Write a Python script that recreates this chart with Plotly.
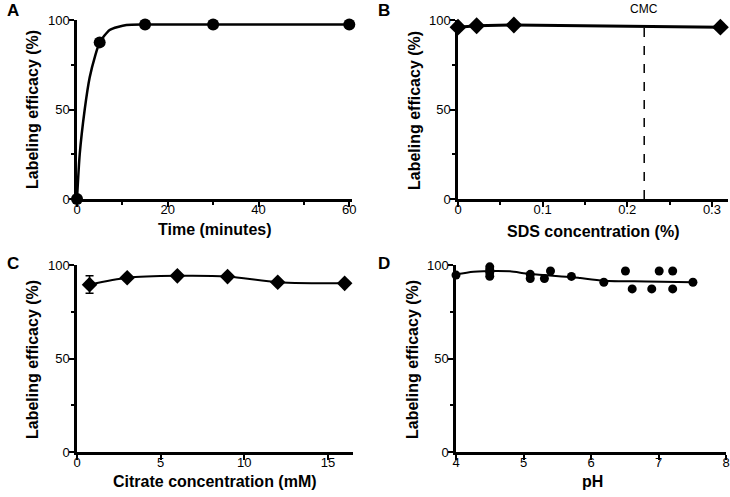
import plotly.graph_objects as go

# ---- Data ----
# Panel A: time course
time_min = [0, 5, 15, 30, 60]
eff_time = [0, 87.5, 97.5, 97.5, 97.5]
# fitted curve points
fitA_t = [0, 0.6, 1.7, 2.8, 4, 5, 7.2, 10.9, 15, 30, 60]
fitA_y = [0, 25, 50, 68, 80, 87.5, 94.4, 97.2, 97.5, 97.5, 97.5]

# Panel B: SDS concentration
sds_conc = [0, 0.022, 0.066, 0.31]
eff_sds = [96, 96.8, 97.2, 96]
cmc_x = 0.22

# Panel C: citrate concentration
citrate = [0.75, 3, 6, 9, 12, 16]
eff_citrate = [89.5, 93.2, 94.2, 93.8, 90.8, 90.2]
err_plus = [4.8, 0, 0, 0, 0, 0]
err_minus = [4.6, 0, 0, 0, 0, 0]

# Panel D: pH
ph = [4.0, 4.5, 4.5, 4.5, 4.5, 5.1, 5.1, 5.31, 5.4, 5.71, 6.19, 6.51, 6.61, 6.9, 7.01, 7.21, 7.21, 7.51]
eff_ph = [94.6, 99, 97.5, 96, 94, 95, 92.8, 92.8, 96.8, 93.9, 90.8, 96.8, 87.2, 87.2, 96.8, 96.8, 87.2, 90.8]
fitD_x = [4.0, 4.26, 4.6, 4.8, 5.1, 5.71, 5.84, 6.19, 6.82, 7.51]
fitD_y = [95, 96.4, 96.8, 96.6, 95.2, 93.5, 93.0, 91.6, 91.2, 90.8]

FONT = "Arial, Liberation Sans, sans-serif"
fig = go.Figure()

# A
fig.add_trace(go.Scatter(x=fitA_t, y=fitA_y, mode="lines", line=dict(color="black", width=2.5, shape="spline", smoothing=0.6),
                         xaxis="x", yaxis="y", cliponaxis=False, showlegend=False))
fig.add_trace(go.Scatter(x=time_min, y=eff_time, mode="markers", marker=dict(color="black", size=12, symbol="circle"),
                         xaxis="x", yaxis="y", cliponaxis=False, showlegend=False))
# B
fig.add_trace(go.Scatter(x=[cmc_x, cmc_x], y=[0, 100], mode="lines", line=dict(color="black", width=1.5, dash="dash"),
                         xaxis="x2", yaxis="y2", showlegend=False))
fig.add_trace(go.Scatter(x=sds_conc, y=eff_sds, mode="lines+markers", line=dict(color="black", width=3),
                         marker=dict(color="black", size=13, symbol="diamond"),
                         xaxis="x2", yaxis="y2", cliponaxis=False, showlegend=False))
# C
fig.add_trace(go.Scatter(x=citrate, y=eff_citrate, mode="lines+markers",
                         line=dict(color="black", width=2, shape="spline", smoothing=0.8),
                         marker=dict(color="black", size=12, symbol="diamond"),
                         error_y=dict(type="data", array=err_plus, arrayminus=err_minus, color="black", thickness=1.5, width=4),
                         xaxis="x3", yaxis="y3", cliponaxis=False, showlegend=False))
# D
fig.add_trace(go.Scatter(x=fitD_x, y=fitD_y, mode="lines", line=dict(color="black", width=2, shape="spline", smoothing=0.8),
                         xaxis="x4", yaxis="y4", cliponaxis=False, showlegend=False))
fig.add_trace(go.Scatter(x=ph, y=eff_ph, mode="markers", marker=dict(color="black", size=9, symbol="circle"),
                         xaxis="x4", yaxis="y4", cliponaxis=False, showlegend=False))

W, H = 730, 497

def px(x):
    return x / W

def py(y):
    return 1 - y / H

def xax(dom, anchor, rng, dtick, tick0=0, minor=None):
    d = dict(domain=dom, anchor=anchor, range=rng, dtick=dtick, tick0=tick0, showline=True, linecolor="black",
             linewidth=2.5, ticks="outside", ticklen=5, tickwidth=2, tickcolor="black", showgrid=False,
             zeroline=False, automargin=False, ticklabelstandoff=-8,
             tickfont=dict(family=FONT, size=13, color="black"), fixedrange=True)
    if minor:
        d["minor"] = dict(dtick=minor, ticks="outside", ticklen=3, tickwidth=2, tickcolor="black", showgrid=False)
    return d

def yax(dom, anchor):
    return dict(domain=dom, anchor=anchor, range=[0, 100], dtick=50, showline=True, linecolor="black",
                linewidth=2.5, ticks="outside", ticklen=5, tickwidth=2, tickcolor="black", showgrid=False,
                zeroline=False, automargin=False, ticklabelstandoff=-3, fixedrange=True,
                tickfont=dict(family=FONT, size=13, color="black"),
                minor=dict(dtick=25, ticks="outside", ticklen=3, tickwidth=2, tickcolor="black", showgrid=False))

top_dom = [py(199), py(20)]
bot_dom = [py(452), py(265)]

fig.update_layout(
    width=W, height=H, margin=dict(l=0, r=0, t=0, b=0, autoexpand=False),
    paper_bgcolor="white", plot_bgcolor="white",
    xaxis=xax([px(77), px(352)], "y", [0, 60.6], 20, minor=10),
    yaxis=yax(top_dom, "x"),
    xaxis2=xax([px(458), px(728)], "y2", [0, 0.319], 0.1, minor=0.05),
    yaxis2=yax(top_dom, "x2"),
    xaxis3=xax([px(77), px(353)], "y3", [0, 16.5], 5),
    yaxis3=yax(bot_dom, "x3"),
    xaxis4=xax([px(456), px(726)], "y4", [4, 8], 1),
    yaxis4=yax(bot_dom, "x4"),
)

ann = []
def text(x, y, t, size=16, bold=True, angle=0):
    ann.append(dict(x=px(x), y=py(y), xref="paper", yref="paper", text=(f"<b>{t}</b>" if bold else t),
                    showarrow=False, textangle=angle, xanchor="center", yanchor="middle",
                    font=dict(family=FONT, size=size, color="black")))

# panel letters
text(13, 10, "A", 17)
text(384, 10, "B", 17)
text(13, 263, "C", 17)
text(384, 263, "D", 17)
# axis titles
text(215, 230, "Time (minutes)")
text(32, 110, "Labeling efficacy (%)", angle=-90)
text(593, 231, "SDS concentration (%)")
text(414, 111, "Labeling efficacy (%)", angle=-90)
text(215, 481, "Citrate concentration (mM)")
text(32, 360, "Labeling efficacy (%)", angle=-90)
text(592, 481, "pH")
text(412, 360, "Labeling efficacy (%)", angle=-90)
# CMC label
ann.append(dict(x=cmc_x, y=100, xref="x2", yref="y2", text="CMC", showarrow=False, yanchor="bottom", yshift=2,
                font=dict(family=FONT, size=12, color="black")))
fig.update_layout(annotations=ann)

fig.write_html("out.html", config={"displayModeBar": False},
               post_script="document.body.style.margin='0px';")
